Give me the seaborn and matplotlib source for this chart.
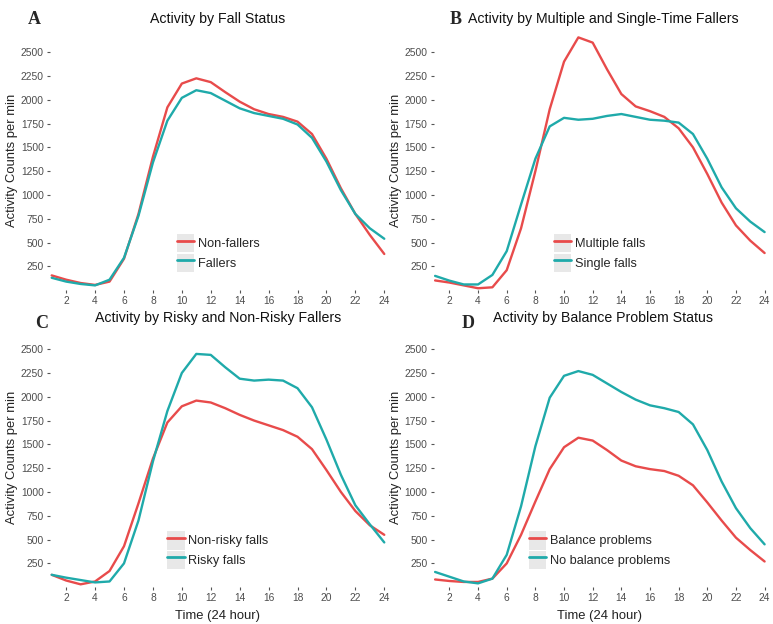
import numpy as np
import pandas as pd
import matplotlib
matplotlib.use("Agg")
import matplotlib.pyplot as plt
from matplotlib.patches import Patch
from matplotlib.lines import Line2D
from matplotlib.legend_handler import HandlerTuple
import seaborn as sns

hours = list(range(1, 25))

# panel A
non_fallers = [155, 110, 75, 55, 90, 330, 800, 1400, 1920, 2170, 2225, 2185,
               2080, 1980, 1900, 1850, 1820, 1770, 1640, 1380, 1070, 800, 580, 380]
fallers = [130, 90, 65, 50, 110, 340, 780, 1340, 1780, 2020, 2100, 2070,
           1990, 1910, 1860, 1830, 1800, 1740, 1600, 1350, 1050, 800, 650, 540]

# panel B
multiple_falls = [102, 80, 50, 20, 30, 210, 650, 1250, 1900, 2400, 2655, 2600,
                  2320, 2060, 1930, 1880, 1820, 1700, 1500, 1220, 920, 680, 520, 390]
single_falls = [150, 100, 60, 60, 160, 410, 900, 1380, 1720, 1810, 1790, 1800,
                1830, 1850, 1820, 1790, 1780, 1760, 1640, 1380, 1080, 860, 720, 610]

# panel C
non_risky = [130, 70, 30, 60, 170, 430, 880, 1350, 1730, 1900, 1960, 1940,
             1880, 1810, 1750, 1700, 1650, 1580, 1450, 1230, 1000, 800, 650, 550]
risky = [130, 100, 75, 50, 60, 250, 700, 1320, 1850, 2250, 2450, 2440,
         2310, 2190, 2170, 2180, 2170, 2090, 1890, 1550, 1180, 860, 660, 470]

# panel D
balance = [81, 65, 55, 55, 90, 250, 550, 900, 1240, 1470, 1570, 1540,
           1440, 1330, 1270, 1240, 1220, 1170, 1070, 890, 700, 520, 390, 270]
no_balance = [160, 110, 60, 40, 90, 340, 850, 1480, 1990, 2220, 2270, 2230,
              2140, 2050, 1970, 1910, 1880, 1840, 1710, 1440, 1110, 830, 620, 450]

panels = [
    ("A", "Activity by Fall Status", ["Non-fallers", "Fallers"], [non_fallers, fallers]),
    ("B", "Activity by Multiple and Single-Time Fallers", ["Multiple falls", "Single falls"], [multiple_falls, single_falls]),
    ("C", "Activity by Risky and Non-Risky Fallers", ["Non-risky falls", "Risky falls"], [non_risky, risky]),
    ("D", "Activity by Balance Problem Status", ["Balance problems", "No balance problems"], [balance, no_balance]),
]

red = "#E84B4B"
teal = "#1FAAAA"
tick_gray = "#4d4d4d"
key_gray = "#e8e8e8"

sns.set_style("white")
plt.rcParams["font.family"] = ["Liberation Sans", "DejaVu Sans"]

fig = plt.figure(figsize=(7.73, 6.24), dpi=100)

# [left, bottom, width, height] in figure fraction
boxes = [
    [0.065, 0.535, 0.434, 0.415],
    [0.561, 0.535, 0.430, 0.415],
    [0.065, 0.059, 0.434, 0.415],
    [0.561, 0.059, 0.430, 0.415],
]
letter_pos = [(28, 19), (450, 19), (35, 323), (462, 323)]
title_pos = [(218, 19), (603, 19), (218, 318), (603, 318)]

for i, (letter, title, names, series) in enumerate(panels):
    ax = fig.add_axes(boxes[i])
    df = pd.DataFrame({
        "hour": hours * 2,
        "value": series[0] + series[1],
        "group": [names[0]] * 24 + [names[1]] * 24,
    })
    sns.lineplot(data=df, x="hour", y="value", hue="group", hue_order=names,
                 palette=[red, teal], linewidth=1.7, ax=ax, legend=False)
    ax.set_xlim(0.9, 24.1)
    ax.set_ylim(0, 2720)
    ax.set_xticks(range(2, 25, 2))
    ax.set_yticks(range(250, 2501, 250))
    for s in ax.spines.values():
        s.set_visible(False)
    ax.tick_params(axis="both", which="both", length=2.5, width=0.8,
                   color="#555555", labelcolor=tick_gray, labelsize=7.4,
                   left=True, bottom=True, pad=2)
    ax.set_ylabel("Activity Counts per min", fontsize=9.4, color="#222222")
    ax.yaxis.set_label_coords(-0.095, 0.5)
    if i >= 2:
        ax.set_xlabel("Time (24 hour)", fontsize=9.4, color="#222222")
        ax.xaxis.set_label_coords(0.5, -0.089)
    else:
        ax.set_xlabel("")

    # grey key boxes like ggplot legend keys
    handles = [(Patch(facecolor=key_gray, edgecolor="none"),
                Line2D([], [], color=c, linewidth=2))
               for c in (red, teal)]
    ax.legend(handles, names, handler_map={tuple: HandlerTuple(ndivide=1, pad=0)},
              loc="center", bbox_to_anchor=(0.5, 0.143), frameon=False,
              fontsize=9.2, handlelength=1.35, handleheight=1.85,
              handletextpad=0.3, labelspacing=0.1, borderpad=0)

    fig.text(letter_pos[i][0] / 773, 1 - letter_pos[i][1] / 624, letter,
             family="Liberation Serif", fontweight="bold", fontsize=13,
             ha="left", va="center")
    fig.text(title_pos[i][0] / 773, 1 - title_pos[i][1] / 624, title,
             fontsize=10.2, ha="center", va="center", color="#111111")

fig.savefig("out.png", dpi=100)
